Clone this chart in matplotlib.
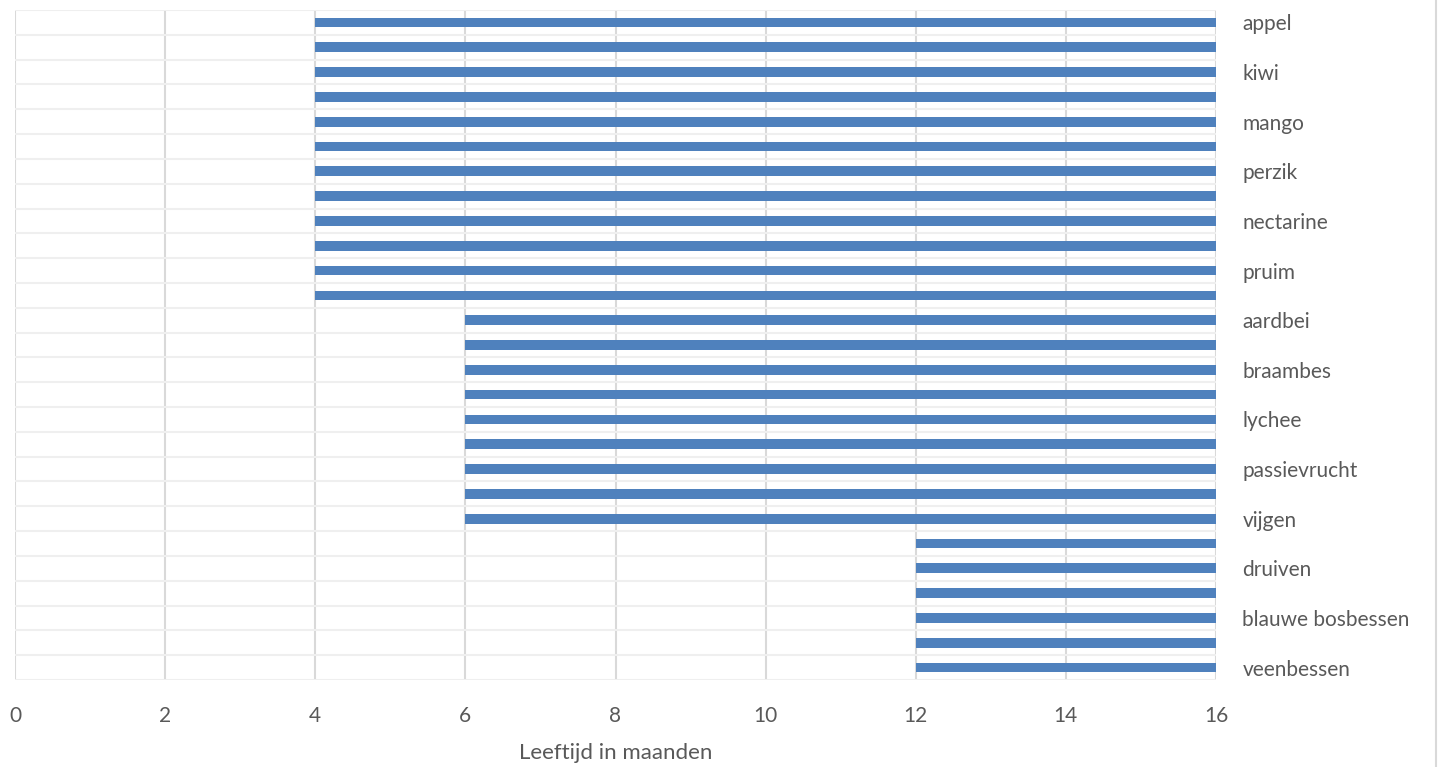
import numpy as np
import matplotlib
matplotlib.use("Agg")
import matplotlib.pyplot as plt
from matplotlib.lines import Line2D

plt.rcParams["font.family"] = ["Lato", "DejaVu Sans"]

# rijen van boven naar beneden; alleen elke tweede naam staat als label
fruit = ["appel", "", "kiwi", "", "mango", "", "perzik", "", "nectarine", "",
         "pruim", "", "aardbei", "", "braambes", "", "lychee", "", "passievrucht", "",
         "vijgen", "", "druiven", "", "blauwe bosbessen", "", "veenbessen"]
start_maand = [4, 4, 4, 4, 4, 4, 4, 4, 4, 4, 4, 4,
               6, 6, 6, 6, 6, 6, 6, 6, 6,
               12, 12, 12, 12, 12, 12]
eind_maand = [16] * 27

x_ticks = [0, 2, 4, 6, 8, 10, 12, 14, 16]

tekst_kleur = "#595959"
balk_kleur = "#4F81BD"

fig = plt.figure(figsize=(14.38, 7.67), dpi=100)
ax = fig.add_axes([15 / 1438, 1 - 680 / 767, (1216 - 15) / 1438, 670 / 767])

y = np.arange(len(fruit))
breedte = np.array(eind_maand) - np.array(start_maand)
ax.barh(y, breedte, left=start_maand, height=0.39, color=balk_kleur, zorder=3)

ax.set_xlim(0, 16)
ax.set_ylim(len(fruit) - 0.5, -0.5)

ax.set_xticks(x_ticks)
ax.set_xticklabels([str(t) for t in x_ticks])
ax.set_yticks(y)
ax.set_yticklabels(fruit)
ax.set_yticks(np.arange(-0.5, len(fruit), 0.5), minor=True)

ax.yaxis.tick_right()
ax.tick_params(axis="y", which="both", length=0, pad=19, labelsize=15, labelcolor=tekst_kleur)
ax.tick_params(axis="x", length=0, pad=19, labelsize=15, labelcolor=tekst_kleur)

# rasterlijnen: verticaal per 2 maanden, horizontaal per halve rij
ax.grid(axis="x", which="major", color="#D9D9D9", linewidth=1.5, zorder=1)
ax.grid(axis="y", which="minor", color="#EFEFEF", linewidth=1.5, zorder=1)
ax.grid(axis="y", which="major", visible=False)
ax.set_axisbelow(True)

for s in ax.spines.values():
    s.set_visible(False)

ax.set_xlabel("Leeftijd in maanden", fontsize=16, color=tekst_kleur, labelpad=12)

# rand van het grafiekgebied rechts
fig.add_artist(Line2D([1436 / 1438, 1436 / 1438], [0, 1], transform=fig.transFigure,
                      color="#D9D9D9", linewidth=1.5))

fig.savefig("out.png", dpi=100, facecolor="white")
